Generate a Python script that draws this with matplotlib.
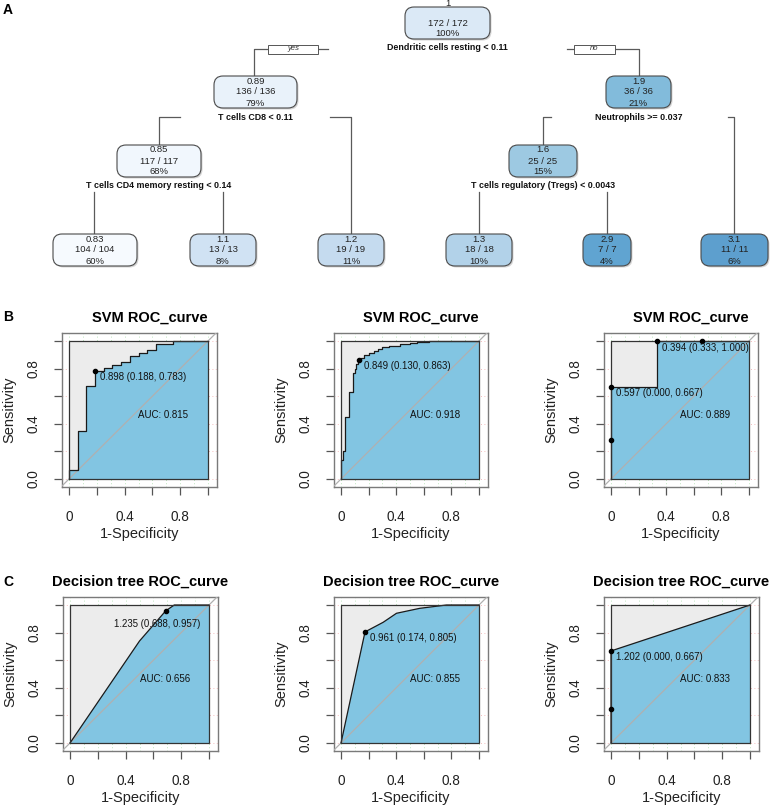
import numpy as np
import matplotlib
matplotlib.use("Agg")
import matplotlib.pyplot as plt
from matplotlib.patches import FancyBboxPatch, Rectangle

plt.rcParams['font.family'] = ['Liberation Sans', 'DejaVu Sans']

W, H = 770, 808

# ---- regression tree (panel A) ----
node_value = [1, 0.89, 1.9, 0.85, 1.6, 0.83, 1.1, 1.2, 1.3, 2.9, 3.1]
node_n = [172, 136, 36, 117, 25, 104, 13, 19, 18, 7, 11]
node_pct = [100, 79, 21, 68, 15, 60, 8, 11, 10, 4, 6]
split_text = ["Dendritic cells resting < 0.11", "T cells CD8 < 0.11",
              "Neutrophils >= 0.037", "T cells CD4 memory resting < 0.14",
              "T cells regulatory (Tregs) < 0.0043"]

# ---- ROC curves (panels B, C) ----
b1_fpr = [0, 0, 0.0625, 0.125, 0.1875, 0.25, 0.3125, 0.375, 0.4375, 0.5, 0.5625, 0.625, 0.75, 1.0]
b1_tpr = [0, 0.065, 0.348, 0.674, 0.783, 0.804, 0.826, 0.848, 0.891, 0.913, 0.935, 0.978, 1.0, 1.0]
b2_fpr = [0, 0, 0.017, 0.03, 0.06, 0.084, 0.1, 0.11, 0.12, 0.13, 0.145, 0.17, 0.2, 0.24,
          0.27, 0.3, 0.35, 0.43, 0.5, 0.55, 0.64, 1.0]
b2_tpr = [0, 0.14, 0.2, 0.45, 0.63, 0.77, 0.8, 0.83, 0.85, 0.863, 0.88, 0.895, 0.91, 0.925,
          0.94, 0.955, 0.965, 0.975, 0.985, 0.995, 1.0, 1.0]
b3_fpr = [0, 0, 0.333, 1.0]
b3_tpr = [0, 0.667, 1.0, 1.0]
c1_fpr = [0, 0.5, 0.688, 0.75, 1.0]
c1_tpr = [0, 0.739, 0.957, 1.0, 1.0]
c2_fpr = [0, 0.174, 0.306, 0.402, 0.571, 0.764, 1.0]
c2_tpr = [0, 0.805, 0.875, 0.94, 0.976, 1.0, 1.0]
c3_fpr = [0, 0, 1.0]
c3_tpr = [0, 0.667, 1.0]

auc = [0.815, 0.918, 0.889, 0.656, 0.855, 0.833]
# labelled thresholds: (threshold, fpr, tpr)
thr_b1 = [(0.898, 0.188, 0.783)]
thr_b2 = [(0.849, 0.130, 0.863)]
thr_b3 = [(0.394, 0.333, 1.000), (0.597, 0.000, 0.667)]
thr_c1 = [(1.235, 0.688, 0.957)]
thr_c2 = [(0.961, 0.174, 0.805)]
thr_c3 = [(1.202, 0.000, 0.667)]
extra_dots_b3 = [(0.0, 0.28), (0.663, 1.0)]
extra_dots_c3 = [(0.0, 0.25)]

# ---- layout (pixels) ----
node_box = [(405, 490, 7), (214, 297, 76), (606, 671, 76), (117, 201, 145), (509, 577, 145),
            (53, 137, 234), (190, 256, 234), (318, 384, 234), (446, 512, 234), (583, 631, 234),
            (701, 768, 234)]
node_fill = ['#dbe9f6', '#e9f2fa', '#82bbdb', '#f1f7fd', '#9dc9e2', '#f6fafe',
             '#d0e2f3', '#c5dbef', '#b2d2e9', '#60a4d1', '#5d9fce']
split_pos = [(447, 48), (255, 117), (639, 117), (159, 186), (543, 186)]
edges = [[(328, 49), (254, 49), (254, 76)], [(567, 49), (639, 49), (639, 76)],
         [(180, 117), (159, 117), (159, 145)], [(330, 117), (351, 117), (351, 234)],
         [(551, 117), (543, 117), (543, 145)], [(728, 117), (734, 117), (734, 234)],
         [(94, 192), (94, 234)], [(223, 192), (223, 234)],
         [(479, 192), (479, 234)], [(607, 192), (607, 234)]]

fig = plt.figure(figsize=(W / 100, H / 100), dpi=100)
bg = fig.add_axes([0, 0, 1, 1])
bg.set_xlim(0, W)
bg.set_ylim(H, 0)
bg.axis('off')

for e in edges:
    xs, ys = zip(*e)
    bg.plot(xs, ys, color='#5a5a5a', lw=0.9, zorder=1)

for i, (xl, xr, yt) in enumerate(node_box):
    bg.add_patch(FancyBboxPatch((xl + 1.5, yt + 1.5), xr - xl, 32,
                                boxstyle='round,pad=0,rounding_size=9',
                                fc='#d4d4d4', ec='none', zorder=2))
    bg.add_patch(FancyBboxPatch((xl, yt), xr - xl, 32,
                                boxstyle='round,pad=0,rounding_size=9',
                                fc=node_fill[i], ec='#4a4a4a', lw=0.8, zorder=3))
    cx = (xl + xr) / 2
    vy = 4 if i == 0 else yt + 5
    bg.text(cx, vy, f'{node_value[i]:g}', ha='center', va='center', fontsize=6.8,
            color='#222222', zorder=4)
    bg.text(cx, yt + 16, f'{node_n[i]} / {node_n[i]}', ha='center', va='center',
            fontsize=6.8, color='#222222', zorder=4)
    bg.text(cx, yt + 27, f'{node_pct[i]}%', ha='center', va='center', fontsize=6.8,
            color='#222222', zorder=4)

for txt, (x, y) in zip(split_text, split_pos):
    bg.text(x, y, txt, ha='center', va='center', fontsize=6.4, fontweight='bold',
            color='#111111', zorder=4)

for lab, (x, y, w) in zip(['yes', 'no'], [(293, 49, 50), (594.5, 49, 41)]):
    bg.add_patch(Rectangle((x - w / 2, y - 4.5), w, 9, fc='white', ec='#555555',
                           lw=0.7, zorder=4))
    bg.text(x, y, lab, ha='center', va='center', fontsize=5.5, style='italic',
            color='#333333', zorder=5)

for lab, (x, y) in zip('ABC', [(8, 10), (8, 317), (8, 582)]):
    bg.text(x, y, lab, ha='center', va='center', fontsize=10, fontweight='bold')


def roc_panel(x0, x1, y0, y1, fpr, tpr, step, auc_val, thr, title, title_dx,
              extra=(), label_mode=None):
    w = x1 - x0
    h = y0 - y1
    left, right = x0 - 0.05 * w, x1 + 0.065 * w
    top, bottom = y1 - 0.058 * h, y0 + 0.058 * h
    ax = fig.add_axes([left / W, 1 - bottom / H, (right - left) / W, (bottom - top) / H])
    ax.set_xlim(-0.05, 1.065)
    ax.set_ylim(-0.058, 1.058)
    for g in np.arange(0, 1.01, 0.1):
        ax.axvline(g, color='#a8dca8', lw=0.6, ls=(0, (1, 3)), zorder=0)
    for g in np.arange(0, 1.01, 0.2):
        ax.axhline(g, color='#f2a8a8', lw=0.6, ls=(0, (1, 3)), zorder=0)
    ax.add_patch(Rectangle((0, 0), 1, 1, fc='#ececec', ec='none', zorder=1))
    if step:
        ax.fill_between(fpr, tpr, 0, step='post', fc='#82c5e2', ec='none', zorder=2)
        ax.plot(fpr, tpr, drawstyle='steps-post', color='#1a1a1a', lw=0.9, zorder=4)
    else:
        ax.fill_between(fpr, tpr, 0, fc='#82c5e2', ec='none', zorder=2)
        ax.plot(fpr, tpr, color='#1a1a1a', lw=0.9, zorder=4)
    ax.plot([-0.2, 1.2], [-0.2, 1.2], color='#b0b0b0', lw=0.9, zorder=3)
    ax.add_patch(Rectangle((0, 0), 1, 1, fc='none', ec='#333333', lw=0.9, zorder=4))
    for t, fx, fy in thr:
        ax.plot(fx, fy, 'o', color='black', ms=3, zorder=5)
        s = f'{t:.3f} ({fx:.3f}, {fy:.3f})'
        if label_mode == 'left':
            ax.annotate(s, (fx, fy), xytext=(-6, -9.5), textcoords='offset points',
                        ha='center', va='center', fontsize=6.9, color='#111111', zorder=6)
        else:
            ax.annotate(s, (fx, fy), xytext=(3.6, -4.7), textcoords='offset points',
                        ha='left', va='center', fontsize=6.9, color='#111111', zorder=6)
    for fx, fy in extra:
        ax.plot(fx, fy, 'o', color='black', ms=3, zorder=5)
    ax.text(0.5, 0.5, f'AUC: {auc_val:.3f}', ha='left', va='top', fontsize=7,
            color='#111111', zorder=6)

    for sp in ax.spines.values():
        sp.set_color('#7a7a7a')
        sp.set_linewidth(1.0)
    ticks = [0, 0.2, 0.4, 0.6, 0.8, 1.0]
    ax.set_xticks(ticks)
    ax.set_xticklabels(['0', '', '0.4', '', '0.8', ''])
    ax.set_yticks(ticks)
    ax.set_yticklabels(['0.0', '', '0.4', '', '0.8', ''], rotation=90, va='center')
    ax.tick_params(axis='both', length=5.5, width=0.9, color='#555555',
                   labelsize=9.8, labelcolor='#222222')
    ax.tick_params(axis='x', pad=11)
    ax.tick_params(axis='y', pad=10)
    fw, fh = right - left, bottom - top
    ax.text(0.5 + title_dx / fw, 1 + 15 / fh, title, transform=ax.transAxes,
            ha='center', va='center', fontsize=10.5, fontweight='bold')
    ax.text(-53 / fw, 0.5, 'Sensitivity', transform=ax.transAxes, rotation=90,
            ha='center', va='center', fontsize=10.5, color='#222222')
    ax.text(0.5, -47 / fh, '1-Specificity', transform=ax.transAxes,
            ha='center', va='center', fontsize=10.5, color='#222222')
    return ax


roc_panel(69, 208, 479, 341, b1_fpr, b1_tpr, True, auc[0], thr_b1, 'SVM ROC_curve', 10)
roc_panel(341, 479, 479, 341, b2_fpr, b2_tpr, True, auc[1], thr_b2, 'SVM ROC_curve', 10)
roc_panel(611, 749, 479, 341, b3_fpr, b3_tpr, True, auc[2], thr_b3, 'SVM ROC_curve', 10,
          extra=extra_dots_b3)
roc_panel(70, 209, 743, 605, c1_fpr, c1_tpr, False, auc[3], thr_c1,
          'Decision tree ROC_curve', 0, label_mode='left')
roc_panel(341, 479, 743, 605, c2_fpr, c2_tpr, False, auc[4], thr_c2,
          'Decision tree ROC_curve', 0)
roc_panel(611, 750, 743, 605, c3_fpr, c3_tpr, False, auc[5], thr_c3,
          'Decision tree ROC_curve', 0, extra=extra_dots_c3)

fig.savefig('out.png', dpi=100)
